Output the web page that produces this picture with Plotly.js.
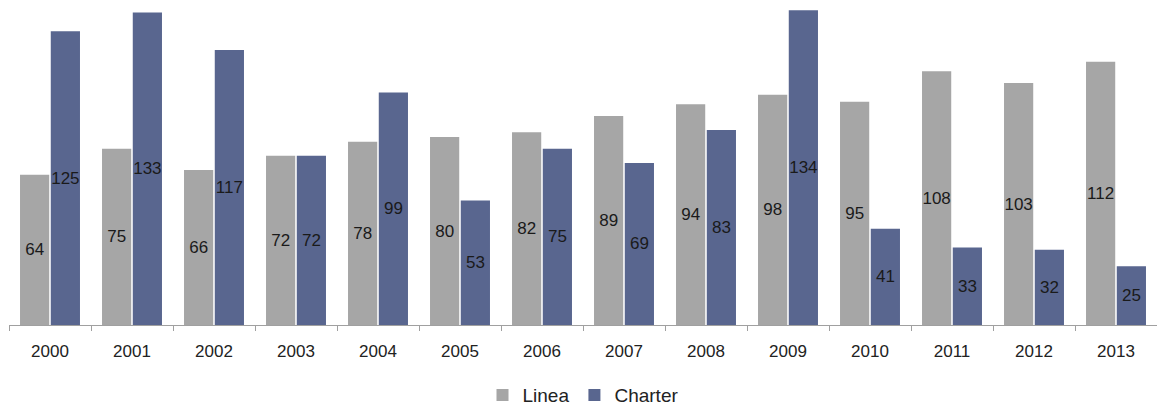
<!DOCTYPE html>
<html>
<head>
<meta charset="utf-8">
<script src="https://cdn.plot.ly/plotly-3.0.1.min.js"></script>
<style>html,body{margin:0;padding:0;background:#fff;}#chart{width:1157px;height:409px;}</style>
</head>
<body>
<div id="chart"></div>
<script>
const years = ['2000','2001','2002','2003','2004','2005','2006','2007','2008','2009','2010','2011','2012','2013'];
const linea = [64,75,66,72,78,80,82,89,94,98,95,108,103,112];
const charter = [125,133,117,72,99,53,75,69,83,134,41,33,32,25];

const common = {
  type: 'bar',
  x: years,
  textposition: 'inside',
  insidetextanchor: 'middle',
  textangle: 0,
  constraintext: 'none',
  textfont: {family: 'Liberation Sans, Arial, sans-serif', size: 17, color: '#1a1a1a'},
  hoverinfo: 'none'
};

const data = [
  Object.assign({}, common, {name: 'Linea', y: linea, text: linea.map(String), marker: {color: '#a6a6a6'}}),
  Object.assign({}, common, {name: 'Charter', y: charter, text: charter.map(String), marker: {color: '#59668f'}})
];

const layout = {
  width: 1157, height: 409,
  margin: {l: 9, r: 0, t: 5, b: 84, autoexpand: false},
  paper_bgcolor: '#fff', plot_bgcolor: '#fff',
  barmode: 'group',
  bargap: 0.25,
  bargroupgap: 0.05,
  font: {family: 'Liberation Sans, Arial, sans-serif', color: '#222'},
  xaxis: {
    type: 'category',
    showline: true, linecolor: '#a0a0a0', linewidth: 1,
    ticks: 'outside', tickson: 'boundaries', ticklen: 5, tickcolor: '#a0a0a0',
    tickfont: {size: 17, color: '#222'},
    ticklabelstandoff: 11,
    showgrid: false
  },
  yaxis: {
    range: [0, 136.2],
    visible: false,
    showgrid: false, zeroline: false
  },
  showlegend: true,
  legend: {
    orientation: 'h', x: 0.5, xanchor: 'center',
    yref: 'container', y: 0.034, yanchor: 'middle',
    font: {size: 19, color: '#222'},
    itemwidth: 30
  }
};

Plotly.newPlot('chart', data, layout, {displayModeBar: false, staticPlot: true});
</script>
</body>
</html>
